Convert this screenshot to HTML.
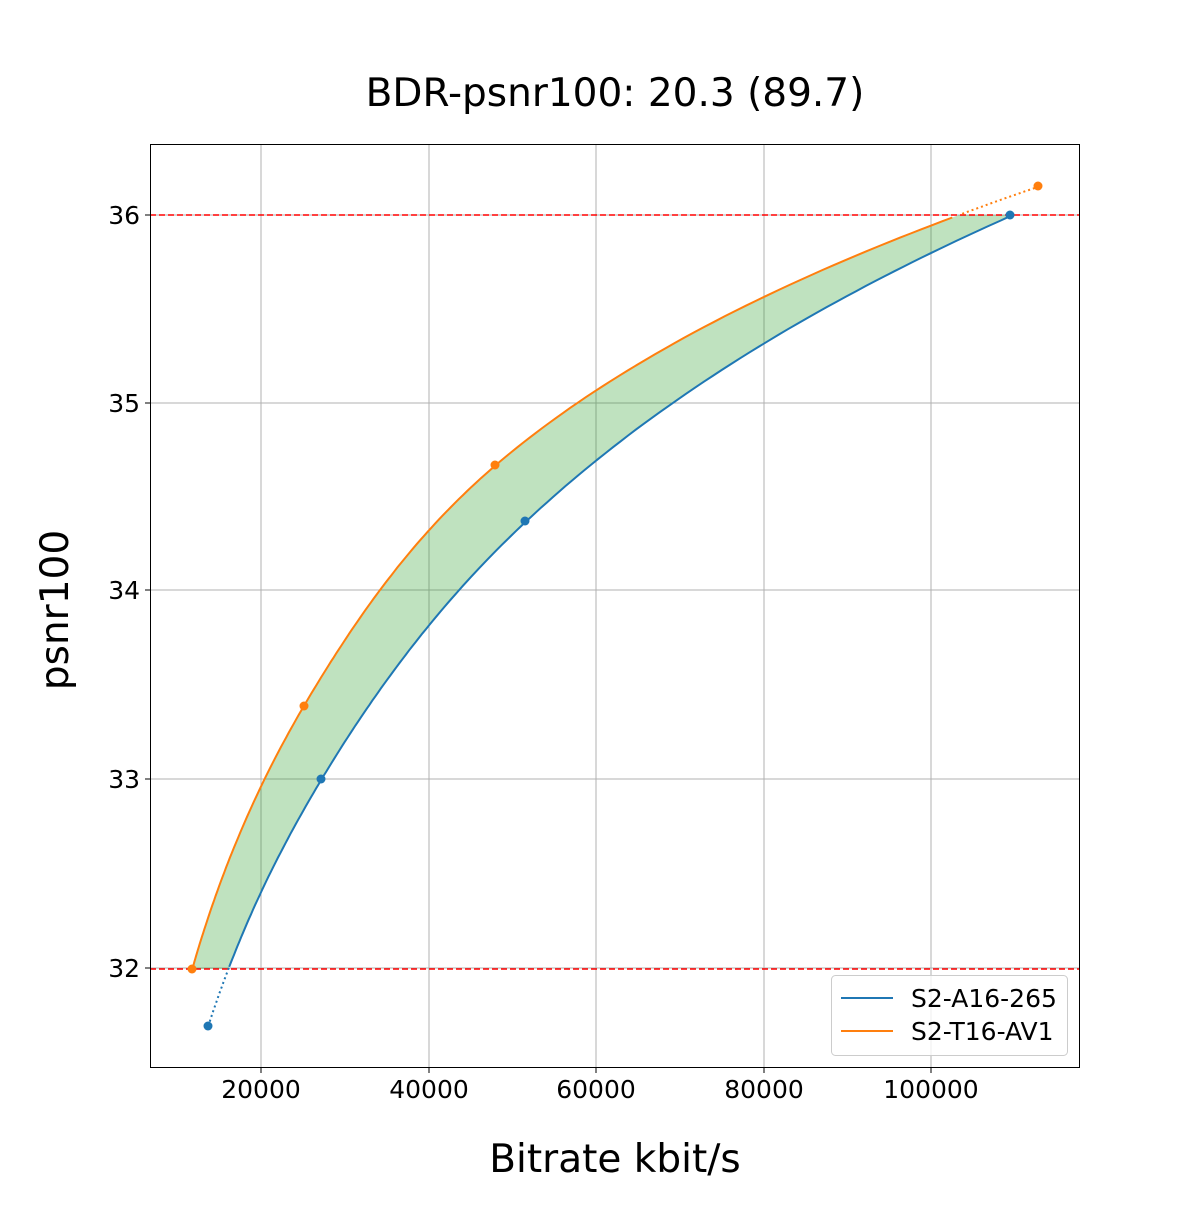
<!DOCTYPE html>
<html><head><meta charset="utf-8"><style>
body{margin:0;background:#fff}
svg text{font-family:"DejaVu Sans","Liberation Sans",sans-serif;fill:#000}
</style></head><body>
<svg id="s" width="1200" height="1200" xmlns="http://www.w3.org/2000/svg">
<rect width="1200" height="1200" fill="#fff"/>
<text x="615" y="106" font-size="39" text-anchor="middle">BDR-psnr100: 20.3 (89.7)</text>
<g stroke="#b0b0b0" stroke-width="1">
<line x1="261" y1="144" x2="261" y2="1068"/><line x1="429" y1="144" x2="429" y2="1068"/>
<line x1="596" y1="144" x2="596" y2="1068"/><line x1="764" y1="144" x2="764" y2="1068"/>
<line x1="931" y1="144" x2="931" y2="1068"/>
<line x1="150" y1="215" x2="1080" y2="215"/><line x1="150" y1="403" x2="1080" y2="403"/>
<line x1="150" y1="590" x2="1080" y2="590"/><line x1="150" y1="779" x2="1080" y2="779"/>
<line x1="150" y1="968" x2="1080" y2="968"/>
</g>
<defs><clipPath id="c"><rect x="150" y="215" width="930" height="754"/></clipPath></defs>
<path id="fill" clip-path="url(#c)" fill="#2ca02c" fill-opacity="0.3" stroke="none"/>
<line x1="150" y1="215" x2="1080" y2="215" stroke="#ff0000" stroke-width="1.5" stroke-dasharray="6,3"/>
<line x1="150" y1="969" x2="1080" y2="969" stroke="#ff0000" stroke-width="1.5" stroke-dasharray="6,3"/>
<path id="bdot" fill="none" stroke="#1f77b4" stroke-width="2" stroke-dasharray="2,3"/>
<path id="odot" fill="none" stroke="#ff7f0e" stroke-width="2" stroke-dasharray="2,3"/>
<path id="bl" fill="none" stroke="#1f77b4" stroke-width="2"/>
<path id="ol" fill="none" stroke="#ff7f0e" stroke-width="2"/>
<g fill="#1f77b4"><circle cx="208" cy="1026" r="4.5"/><circle cx="321" cy="779" r="4.5"/><circle cx="525" cy="521" r="4.5"/><circle cx="1010" cy="215" r="4.5"/></g>
<g fill="#ff7f0e"><circle cx="192" cy="969" r="4.5"/><circle cx="304" cy="706" r="4.5"/><circle cx="495" cy="465" r="4.5"/><circle cx="1038" cy="186" r="4.5"/></g>
<rect x="150.5" y="144.5" width="929" height="923" fill="none" stroke="#000" stroke-width="1"/>
<g stroke="#000"><line x1="261" y1="1068" x2="261" y2="1073"/><line x1="429" y1="1068" x2="429" y2="1073"/><line x1="596" y1="1068" x2="596" y2="1073"/><line x1="764" y1="1068" x2="764" y2="1073"/><line x1="931" y1="1068" x2="931" y2="1073"/>
<line x1="145" y1="215" x2="150" y2="215"/><line x1="145" y1="403" x2="150" y2="403"/><line x1="145" y1="590" x2="150" y2="590"/><line x1="145" y1="779" x2="150" y2="779"/><line x1="145" y1="968" x2="150" y2="968"/></g>
<g font-size="25" text-anchor="middle">
<text x="261" y="1098">20000</text><text x="429" y="1098">40000</text><text x="596" y="1098">60000</text><text x="764" y="1098">80000</text><text x="931" y="1098">100000</text></g>
<g font-size="25" text-anchor="end">
<text x="140" y="224">36</text><text x="140" y="412">35</text><text x="140" y="599">34</text><text x="140" y="788">33</text><text x="140" y="977">32</text></g>
<text x="615" y="1172" font-size="39" text-anchor="middle">Bitrate kbit/s</text>
<text transform="translate(68,610) rotate(-90)" font-size="39" text-anchor="middle">psnr100</text>
<rect x="831.5" y="975.5" width="236" height="80" rx="4" fill="#fff" fill-opacity="0.8" stroke="#ccc"/>
<line x1="841" y1="998" x2="893" y2="998" stroke="#1f77b4" stroke-width="2"/>
<line x1="841" y1="1031" x2="893" y2="1031" stroke="#ff7f0e" stroke-width="2"/>
<text x="911" y="1007" font-size="25">S2-A16-265</text>
<text x="911" y="1040" font-size="25">S2-T16-AV1</text>
</svg>
<script>
function curve(P,n){var L=P.map(p=>[Math.log(p[0]),p[1]]);var out=[];
for(var i=0;i<L.length-1;i++){var p0=L[Math.max(0,i-1)],p1=L[i],p2=L[i+1],p3=L[Math.min(L.length-1,i+2)];
for(var k=0;k<n;k++){var t=k/n,t2=t*t,t3=t2*t;var f=(a,b,c,d)=>0.5*(2*b+(-a+c)*t+(2*a-5*b+4*c-d)*t2+(-a+3*b-3*c+d)*t3);
out.push([Math.exp(f(p0[0],p1[0],p2[0],p3[0])),f(p0[1],p1[1],p2[1],p3[1])]);}}
out.push([Math.exp(L[L.length-1][0]),L[L.length-1][1]]);return out.map(p=>[93.5+p[0]*0.008375,215+(36-p[1])*188.25]);}
var B=curve([[13700,31.69],[27200,33.0],[51600,34.37],[109800,36.0]],60);
var O=curve([[11800,31.995],[25100,33.39],[48000,34.67],[112800,36.15]],60);
function d(a){return "M"+a.map(p=>p[0].toFixed(1)+","+p[1].toFixed(1)).join("L");}
function clip(a,lo,hi){return a.filter(p=>p[1]>=lo&&p[1]<=hi);}
document.getElementById("bl").setAttribute("d",d(clip(B,214,969)));
document.getElementById("ol").setAttribute("d",d(clip(O,214,970)));
document.getElementById("bdot").setAttribute("d",d(B.filter(p=>p[1]>=966)));
document.getElementById("odot").setAttribute("d",d(O.filter(p=>p[1]<=217)));
document.getElementById("fill").setAttribute("d",d(O.concat(B.slice().reverse()))+"Z");
</script>
</body></html>
